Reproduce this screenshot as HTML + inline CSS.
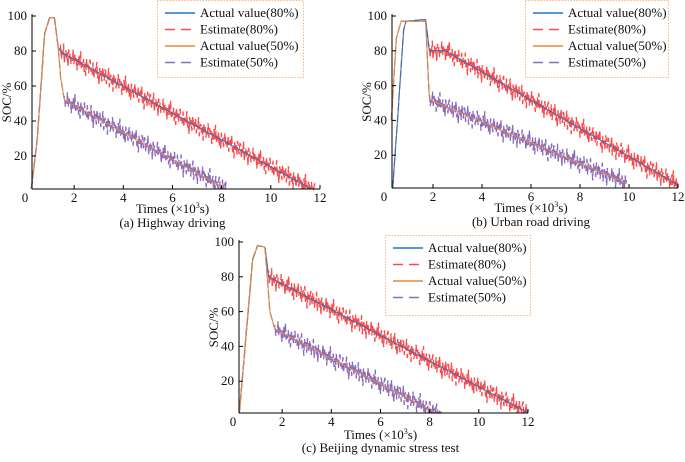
<!DOCTYPE html>
<html><head><meta charset="utf-8"><style>
body{margin:0;background:#fff;width:685px;height:457px;overflow:hidden;font-family:"Liberation Serif",serif}
svg text{font-family:"Liberation Serif",serif;fill:#111}
</style></head><body>
<svg id="c" width="685" height="457"></svg>
<script>
// Actual value keypoints [time (x10^3 s), SOC %]
const aT80=[0.25,0.5,0.8,1.0,1.2,1.35,1.5,11.8];
const aV80=[0,30,90,99,99,82,79,0];
const aT50=[0.25,0.5,0.8,1.0,1.2,1.35,1.45,1.6,8.2];
const aV50=[0,30,90,99,99,82,65,52,1];
const bT80=[0.35,0.6,0.8,0.9,1.7,1.85,2.5,12];
const bV80=[0,50,92,97,98,80,80,3];
const bT50=[0.3,0.5,0.7,1.7,1.85,9.9];
const bV50=[40,87,97,97,52,4];
const cT80=[0.25,0.4,0.8,1.0,1.3,1.45,12];
const cV80=[0,25,90,98,97,80,2];
const cT50=[0.25,0.4,0.8,1.0,1.3,1.5,1.7,8.5];
const cV50=[0,25,90,98,97,60,50,0];
const xTicks=[0,2,4,6,8,10,12];
const yTicks=[20,40,60,80,100];
const noise=[0.8,-0.9,0.3,-0.2,1.3,-1.1,0.2,0.6,-0.5,0.4,-1.4,0.9,-0.2,0.5,-0.8,0.1,-0.3,1.2,-0.6,0.7,-0.1,0.45,-1.2,0.3,-0.55,0.85,-0.4,1.5,-0.6,0.2,-0.35,0.75,-0.9,0.25,-1.3,0.9,-0.2,0.35,-0.75,0.6,1.1,-0.4,0.15,-0.65,0.95,-1.0,0.3,0.5,-0.25,1.25,-0.8,0.05,-1.5,0.7,-0.3,0.4,-0.9,1.0,0.2,-0.6,0.8];
const legendLabels=["Actual value(80%)","Estimate(80%)","Actual value(50%)","Estimate(50%)"];

const NS="http://www.w3.org/2000/svg";
const svg=document.getElementById('c');
function mk(tag,attrs,parent){const e=document.createElementNS(NS,tag);for(const k in attrs)e.setAttribute(k,attrs[k]);(parent||svg).appendChild(e);return e;}
function interp(T,V,t){if(t<=T[0])return V[0];for(let i=1;i<T.length;i++){if(t<=T[i]){const f=(t-T[i-1])/(T[i]-T[i-1]);return V[i-1]+f*(V[i]-V[i-1]);}}return V[V.length-1];}

const panels=[
 {name:'highway',x0:25,x12:320,yAxisX:32,y100:16,yBot:189,y0:191,T80:aT80,V80:aV80,T50:aT50,V50:aV50,n80:1.45,n50:1.6,cap:'(a) Highway driving',leg:[157,0,146,77],tY:24,cY:38},
 {name:'urban',x0:384,x12:678,yAxisX:392,y100:16,yBot:188,y0:190,T80:bT80,V80:bV80,T50:bT50,V50:bV50,n80:1.85,n50:1.85,cap:'(b) Urban road driving',leg:[525,0,143,77],tY:24,cY:38},
 {name:'beijing',x0:233,x12:528,yAxisX:239,y100:242,yBot:413,y0:416,T80:cT80,V80:cV80,T50:cT50,V50:cV50,n80:1.45,n50:1.7,cap:'(c) Beijing dynamic stress test',leg:[385,235,145,80],tY:26,cY:39}
];

panels.forEach(p=>{
 const g=mk('g',{});
 
 
 const sx=t=>p.x0+(p.x12-p.x0)*t/12;
 const sy=v=>p.y0-(p.y0-p.y100)*v/100;
 function poly(T,V,color,w,name){
  let d='';
  const tt=T[0],te=T[T.length-1];
  for(let t=tt;t<=te+1e-9;t+=0.02){d+=(d?'L':'M')+sx(t).toFixed(1)+','+Math.min(p.yBot,sy(interp(T,V,t))).toFixed(1);}
  const e=mk('path',{d:d,fill:'none',stroke:color,'stroke-width':w},g);
  
  
 }
 function est(T,V,ns,color,name,off){
  let d='';let i=off;
  const te=T[T.length-1];
  for(let t=T[0];t<=te+1e-9;t+=(t<ns?0.02:0.03)){
   let v=interp(T,V,t);
   if(t>=ns){v+=noise[i%noise.length]*4.5;i++;}
   v=Math.max(v,0.5);
   d+=(d?'L':'M')+sx(t).toFixed(1)+','+Math.min(p.yBot,sy(v)).toFixed(1);
  }
  const e=mk('path',{d:d,fill:'none',stroke:color,'stroke-width':1.3,'stroke-dasharray':'8,3'},g);
  
  
 }
 est(p.T80,p.V80,p.n80,'#ff4a4a','estimate-80-line',0);
 est(p.T50,p.V50,p.n50,'#8a6bbe','estimate-50-line',13);
 poly(p.T80,p.V80,'#1f77c8',1,'actual-80-line');
 poly(p.T50,p.V50,'#e8893a',1,'actual-50-line');
 const ya=mk('line',{x1:p.yAxisX,y1:p.y100-2,x2:p.yAxisX,y2:p.yBot,stroke:'#000','stroke-width':1},g);
 
 const xa=mk('line',{x1:p.yAxisX,y1:p.yBot,x2:p.x12,y2:p.yBot,stroke:'#000','stroke-width':1},g);
 
 xTicks.forEach(t=>{
  if(t>0){mk('line',{x1:sx(t),y1:p.yBot,x2:sx(t),y2:p.yBot-4,stroke:'#000'},g);}
  const tx=mk('text',{x:sx(t),y:p.yBot+13,'font-size':13,'text-anchor':'middle'},g);
  tx.textContent=t;
  
 });
 yTicks.forEach(v=>{
  mk('line',{x1:p.yAxisX,y1:sy(v),x2:p.yAxisX+4,y2:sy(v),stroke:'#000'},g);
  const tx=mk('text',{x:p.yAxisX-5,y:sy(v)+4,'font-size':13,'text-anchor':'end'},g);
  tx.textContent=v;
  
 });
 const xl=mk('text',{x:(p.x0+p.x12)/2,y:p.yBot+p.tY,'font-size':13,'text-anchor':'middle'},g);
 xl.innerHTML='Times (×10<tspan font-size="8" dy="-5">3</tspan><tspan dy="5">s)</tspan>';
 
 const ylx=p.yAxisX-21, yly=(p.y100+p.yBot)/2;
 const yl=mk('text',{x:ylx,y:yly,'font-size':13,'text-anchor':'middle',transform:`rotate(-90 ${ylx} ${yly})`},g);
 yl.textContent='SOC/%';
 
 const cp=mk('text',{x:(p.x0+p.x12)/2,y:p.yBot+p.cY,'font-size':13,'text-anchor':'middle'},g);
 cp.textContent=p.cap;
 
 const [lx,ly,lw,lh]=p.leg;
 const lg=mk('g',{},g);
 
 mk('rect',{x:lx+0.5,y:ly+0.5,width:lw,height:lh,fill:'#fff',stroke:'#f5b58a','stroke-dasharray':'1.5,1.5'},lg);
 const cols=['#1f77c8','#ff4a4a','#e8893a','#8a6bbe'];
 legendLabels.forEach((s,i)=>{
  const yy=ly+17+i*16.5;
  mk('line',{x1:lx+8,y1:yy-4,x2:lx+38,y2:yy-4,stroke:cols[i],'stroke-width':1.5,'stroke-dasharray':i%2?'10,6':'none'},lg);
  const t=mk('text',{x:lx+43,y:yy,'font-size':13},lg);
  t.textContent=s;
  
 });
});
</script>
</body></html>
